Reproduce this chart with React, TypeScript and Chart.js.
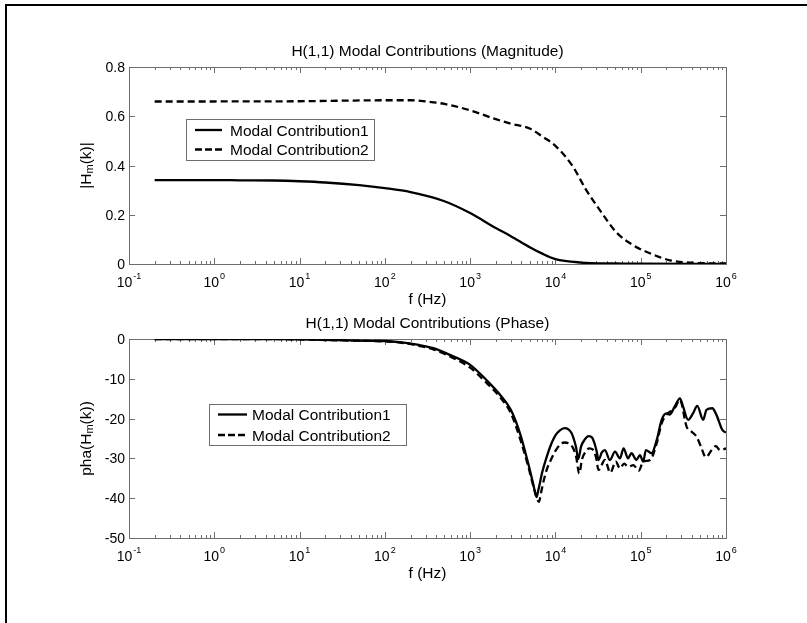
import React, { useEffect, useRef } from 'react';
import { Chart, registerables } from 'chart.js';

Chart.register(...registerables);

const FONT = '"Liberation Sans", Arial, Helvetica, sans-serif';
const AXIS_COLOR = '#6e6e6e';

// ---------- data ----------
const seriesNames = ['Modal Contribution1', 'Modal Contribution2'];
const chartTitles = ['H(1,1) Modal Contributions (Magnitude)', 'H(1,1) Modal Contributions (Phase)'];
const xAxisLabel = 'f (Hz)';

const xTickValues = [0.1, 1, 10, 100, 1000, 1e4, 1e5, 1e6];
const xTickExponents = ['-1', '0', '1', '2', '3', '4', '5', '6'];

const magTickValues = [0, 0.2, 0.4, 0.6, 0.8];
const magTickLabels = ['0', '0.2', '0.4', '0.6', '0.8'];
const phaTickValues = [-50, -40, -30, -20, -10, 0];
const phaTickLabels = ['-50', '-40', '-30', '-20', '-10', '0'];

const magFreq1 = [0.2, 0.5, 1, 2, 5, 10, 20, 50, 100, 200, 500, 1000, 2000, 3000, 5000, 7000, 1e4, 2e4, 5e4, 1e5, 1e6];
const magVal1 = [0.341, 0.341, 0.341, 0.340, 0.339, 0.336, 0.331, 0.320, 0.308, 0.292, 0.255, 0.207, 0.146, 0.113, 0.068, 0.042, 0.020, 0.006, 0.002, 0.001, 0.0];

const magFreq2 = [0.2, 1, 10, 30, 100, 200, 300, 500, 1000, 2000, 3000, 5000, 7000, 1e4, 1.6e4, 2.3e4, 3.3e4, 5.2e4, 8e4, 1.4e5, 2.2e5, 4e5, 1e6];
const magVal2 = [0.660, 0.660, 0.661, 0.663, 0.665, 0.665, 0.660, 0.650, 0.624, 0.588, 0.570, 0.550, 0.518, 0.480, 0.396, 0.300, 0.220, 0.128, 0.078, 0.038, 0.015, 0.005, 0.002];

const phaFreq1 = [0.2, 1, 5, 10, 30, 60, 100, 150, 250, 370, 580, 1000, 1550, 2240, 3000, 3840, 4800, 5500, 6000,
  6300, 7000, 7900, 9000, 1.0e4, 1.12e4, 1.28e4, 1.42e4, 1.55e4, 1.65e4, 1.75e4, 1.85e4,
  2.0e4, 2.2e4, 2.45e4, 2.7e4, 2.9e4, 3.05e4, 3.2e4, 3.5e4, 3.8e4,
  4.35e4, 5e4, 5.7e4, 6.3e4, 7.1e4, 7.8e4, 8.9e4, 9.8e4, 1.07e5, 1.15e5, 1.34e5, 1.54e5, 1.76e5, 2e5, 2.18e5, 2.5e5,
  2.88e5, 3.1e5, 3.6e5, 4.1e5, 4.6e5, 5.4e5, 5.9e5, 6.9e5, 7.7e5, 9.1e5, 1e6];
const phaVal1 = [0, 0, -0.05, -0.1, -0.3, -0.45, -0.5, -0.8, -1.5, -2.3, -4, -6.5, -10.3, -14, -17.8, -23.7, -31.3, -36.5, -39.7,
  -38, -33.5, -29.6, -26.2, -24.2, -23, -22.4, -22.7, -23.7, -25.3, -27.3, -30.2,
  -27, -25.3, -24.4, -24.8, -26.5, -28.3, -30.4, -28.5, -27.9,
  -30.4, -28.3, -30, -27.5, -30, -28.7, -30.4, -29.2, -30.8, -27.9, -28.7, -25.4, -20.3, -18.7, -19, -17,
  -14.9, -16.6, -20.3, -18.7, -16.8, -20.3, -17.8, -17.4, -19, -22.9, -23.5];

const phaFreq2 = [0.2, 1, 10, 30, 100, 150, 250, 370, 580, 1000, 1550, 2240, 3000, 3840, 4800, 5600, 6400,
  6800, 7300, 8000, 8800, 9700, 1.05e4, 1.15e4, 1.28e4, 1.45e4, 1.6e4, 1.75e4, 1.9e4,
  2.05e4, 2.25e4, 2.5e4, 2.75e4, 3.0e4, 3.2e4, 3.8e4, 4.4e4, 5.1e4,
  5.7e4, 6.4e4, 7.1e4, 8.2e4, 9.5e4, 1.07e5, 1.29e5, 1.54e5, 1.76e5, 2e5, 2.5e5, 2.88e5, 3.45e5, 3.95e5, 4.5e5,
  5.1e5, 5.8e5, 6.8e5, 7.6e5, 8.5e5, 1e6];
const phaVal2 = [0, 0, -0.1, -0.35, -0.6, -0.9, -1.7, -2.6, -4.4, -7.2, -11, -14.6, -18.6, -25, -32, -37.5, -40.9,
  -38.5, -35.5, -32.5, -30.5, -28.6, -27.4, -26.4, -26, -26.3, -27.3, -29.6, -33.8,
  -30.2, -28.4, -27.5, -27.8, -29.8, -32.9, -30.4, -33.6, -30.8,
  -32.5, -31.3, -32.1, -31.7, -33.1, -30.8, -30.4, -26.2, -21.2, -19, -17.4, -15.3, -22, -23.3, -24.5,
  -27.1, -29.7, -27.9, -26.9, -27.9, -27.5];

// ---------- helpers ----------
const toPoints = (xs: number[], ys: number[]) => xs.map((x, i) => ({ x, y: ys[i] }));

type PanelCfg = {
  title: string;
  yTitleMain: string;
  yTitleSub: string;
  yTitleTail: string;
  yTicks: number[];
  yTickLabels: string[];
  legend: { left: number; top: number; right: number; bottom: number; rows: number[]; lineX0: number; lineX1: number; textX: number };
};

function makePlugin(cfg: PanelCfg) {
  return {
    id: 'matlabAxes',
    beforeDatasetsDraw(chart: any) {
      const { ctx, chartArea: a, scales } = chart;
      const x = scales.x;
      const y = scales.y;
      ctx.save();
      // box
      ctx.strokeStyle = AXIS_COLOR;
      ctx.lineWidth = 1;
      ctx.strokeRect(a.left + 0.5, a.top + 0.5, a.right - a.left, a.bottom - a.top);
      // x ticks
      ctx.beginPath();
      for (let i = 0; i < xTickValues.length; i++) {
        const v = xTickValues[i];
        const px = Math.round(x.getPixelForValue(v)) + 0.5;
        ctx.moveTo(px, a.bottom);
        ctx.lineTo(px, a.bottom - 6);
        ctx.moveTo(px, a.top);
        ctx.lineTo(px, a.top + 6);
        if (i < xTickValues.length - 1) {
          for (let k = 2; k <= 9; k++) {
            const mx = Math.round(x.getPixelForValue(v * k)) + 0.5;
            ctx.moveTo(mx, a.bottom);
            ctx.lineTo(mx, a.bottom - 3);
            ctx.moveTo(mx, a.top);
            ctx.lineTo(mx, a.top + 3);
          }
        }
      }
      // y ticks
      for (const v of cfg.yTicks) {
        const py = Math.round(y.getPixelForValue(v)) + 0.5;
        ctx.moveTo(a.left, py);
        ctx.lineTo(a.left + 6, py);
        ctx.moveTo(a.right, py);
        ctx.lineTo(a.right - 6, py);
      }
      ctx.stroke();

      // labels
      ctx.fillStyle = '#000';
      ctx.textBaseline = 'alphabetic';
      // y tick labels
      ctx.font = `14px ${FONT}`;
      ctx.textAlign = 'right';
      cfg.yTicks.forEach((v, i) => {
        const py = y.getPixelForValue(v);
        ctx.fillText(cfg.yTickLabels[i], a.left - 4, py + 5);
      });
      // x tick labels: 10^n
      ctx.textAlign = 'left';
      xTickValues.forEach((v, i) => {
        const px = x.getPixelForValue(v);
        ctx.font = `14px ${FONT}`;
        const w1 = ctx.measureText('10').width;
        ctx.font = `9px ${FONT}`;
        const w2 = ctx.measureText(xTickExponents[i]).width;
        const start = px - (w1 + 1 + w2) / 2;
        ctx.font = `14px ${FONT}`;
        ctx.fillText('10', start, a.bottom + 23);
        ctx.font = `9px ${FONT}`;
        ctx.fillText(xTickExponents[i], start + w1 + 1, a.bottom + 15);
      });
      // title
      ctx.font = `15.5px ${FONT}`;
      ctx.textAlign = 'center';
      const cx = (a.left + a.right) / 2;
      ctx.fillText(cfg.title, cx, a.top - 11.5);
      // x label
      ctx.fillText(xAxisLabel, cx, a.bottom + 40);
      // y label rotated with subscript
      ctx.save();
      ctx.translate(90.5, (a.top + a.bottom) / 2);
      ctx.rotate(-Math.PI / 2);
      ctx.font = `15.5px ${FONT}`;
      const wMain = ctx.measureText(cfg.yTitleMain).width;
      const wTail = ctx.measureText(cfg.yTitleTail).width;
      ctx.font = `11px ${FONT}`;
      const wSub = ctx.measureText(cfg.yTitleSub).width;
      const total = wMain + wSub + wTail;
      let sx = -total / 2;
      ctx.textAlign = 'left';
      ctx.font = `15.5px ${FONT}`;
      ctx.fillText(cfg.yTitleMain, sx, 0);
      sx += wMain;
      ctx.font = `11px ${FONT}`;
      ctx.fillText(cfg.yTitleSub, sx, 2);
      sx += wSub;
      ctx.font = `15.5px ${FONT}`;
      ctx.fillText(cfg.yTitleTail, sx, 0);
      ctx.restore();
      ctx.restore();
    },
    afterDatasetsDraw(chart: any) {
      const { ctx } = chart;
      const L = cfg.legend;
      ctx.save();
      ctx.fillStyle = '#fff';
      ctx.fillRect(L.left, L.top, L.right - L.left, L.bottom - L.top);
      ctx.strokeStyle = AXIS_COLOR;
      ctx.lineWidth = 1;
      ctx.strokeRect(L.left + 0.5, L.top + 0.5, L.right - L.left, L.bottom - L.top);
      ctx.strokeStyle = '#000';
      ctx.lineWidth = 2.3;
      ctx.fillStyle = '#000';
      ctx.font = `15.5px ${FONT}`;
      ctx.textAlign = 'left';
      ctx.textBaseline = 'alphabetic';
      L.rows.forEach((ry, i) => {
        ctx.setLineDash(i === 0 ? [] : [7, 3]);
        ctx.beginPath();
        ctx.moveTo(L.lineX0, ry);
        ctx.lineTo(L.lineX1, ry);
        ctx.stroke();
        ctx.fillText(seriesNames[i], L.textX, ry + 5.5);
      });
      ctx.setLineDash([]);
      ctx.restore();
    },
  };
}

function Panel(props: {
  width: number;
  height: number;
  top: number;
  padding: { left: number; right: number; top: number; bottom: number };
  yMin: number;
  yMax: number;
  d1: { x: number; y: number }[];
  d2: { x: number; y: number }[];
  cfg: PanelCfg;
}) {
  const ref = useRef<HTMLCanvasElement | null>(null);
  useEffect(() => {
    if (!ref.current) return;
    const common = {
      borderColor: '#000',
      borderWidth: 2.3,
      pointRadius: 0,
      fill: false,
      borderJoinStyle: 'round' as const,
      cubicInterpolationMode: 'monotone' as const,
    };
    const chart = new Chart(ref.current, {
      type: 'line',
      data: {
        datasets: [
          { ...common, label: seriesNames[0], data: props.d1 },
          { ...common, label: seriesNames[1], data: props.d2, borderDash: [7, 4] },
        ],
      },
      options: {
        animation: false,
        responsive: false,
        devicePixelRatio: 1,
        layout: { padding: props.padding },
        scales: {
          x: { type: 'logarithmic', min: 0.1, max: 1e6, display: false },
          y: { type: 'linear', min: props.yMin, max: props.yMax, display: false },
        },
        plugins: {
          legend: { display: false },
          title: { display: false },
          tooltip: { enabled: false },
        },
      },
      plugins: [makePlugin(props.cfg)],
    } as any);
    return () => chart.destroy();
  }, []);
  return (
    <canvas
      ref={ref}
      width={props.width}
      height={props.height}
      style={{ position: 'absolute', left: 0, top: props.top, width: props.width, height: props.height, display: 'block' }}
    />
  );
}

export default function App() {
  const W = 807;
  return (
    <div style={{ position: 'fixed', left: 0, top: 0, width: W, height: 623, background: '#fff', overflow: 'hidden' }}>
      <div style={{ position: 'absolute', left: 5, top: 4, width: W - 5, height: 2, background: '#000' }} />
      <div style={{ position: 'absolute', left: 5, top: 4, width: 2, height: 623 - 4, background: '#000' }} />
      <Panel
        width={W}
        height={311}
        top={0}
        padding={{ left: 129, right: W - 726, top: 67, bottom: 311 - 264 }}
        yMin={0}
        yMax={0.8}
        d1={toPoints(magFreq1, magVal1)}
        d2={toPoints(magFreq2, magVal2)}
        cfg={{
          title: chartTitles[0],
          yTitleMain: '|H',
          yTitleSub: 'm',
          yTitleTail: '(k)|',
          yTicks: magTickValues,
          yTickLabels: magTickLabels,
          legend: { left: 186, top: 119, right: 374, bottom: 160, rows: [130, 149.5], lineX0: 195, lineX1: 222, textX: 230 },
        }}
      />
      <Panel
        width={W}
        height={312}
        top={311}
        padding={{ left: 129, right: W - 726, top: 339 - 311, bottom: 312 - (538 - 311) }}
        yMin={-50}
        yMax={0}
        d1={toPoints(phaFreq1, phaVal1)}
        d2={toPoints(phaFreq2, phaVal2)}
        cfg={{
          title: chartTitles[1],
          yTitleMain: 'pha(H',
          yTitleSub: 'm',
          yTitleTail: '(k))',
          yTicks: phaTickValues,
          yTickLabels: phaTickLabels,
          legend: { left: 209, top: 404 - 311, right: 406, bottom: 445 - 311, rows: [414.5 - 311, 435 - 311], lineX0: 218, lineX1: 247, textX: 252 },
        }}
      />
    </div>
  );
}
